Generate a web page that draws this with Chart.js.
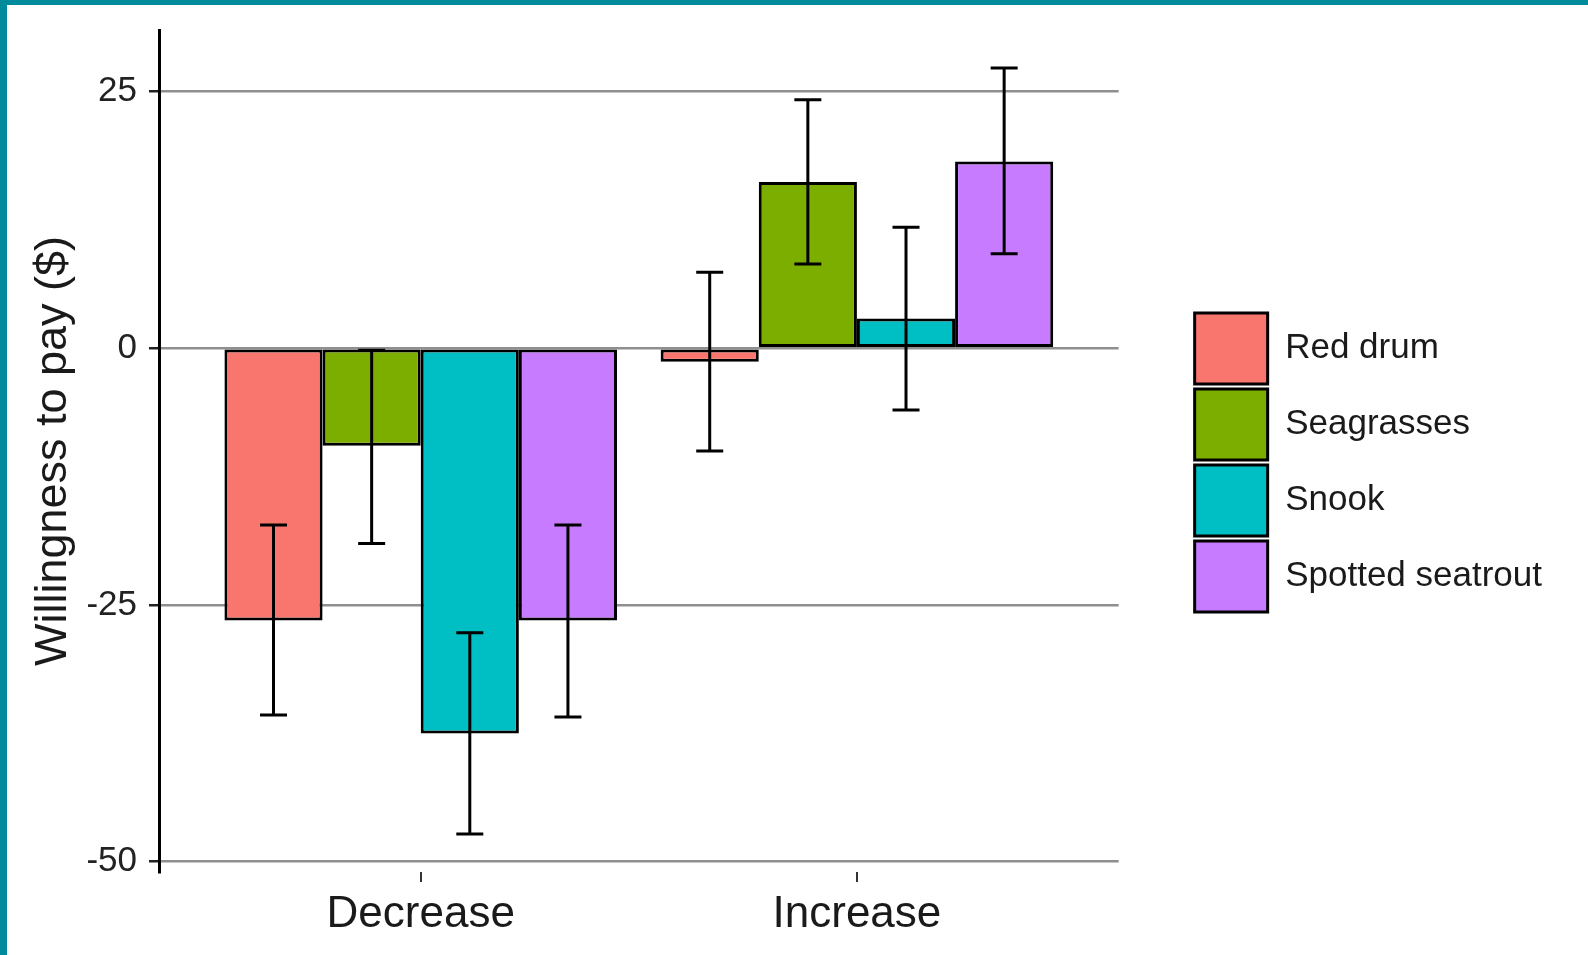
<!DOCTYPE html>
<html>
<head>
<meta charset="utf-8">
<title>Willingness to pay</title>
<script src="https://cdn.jsdelivr.net/npm/chart.js@4.4.1/dist/chart.umd.min.js"></script>
<style>
  html, body { margin: 0; padding: 0; background: #fff; }
  #frame {
    position: absolute; left: 0; top: 0;
    width: 1588px; height: 955px;
    box-sizing: border-box;
    border-top: 5px solid #008b9c;
    border-left: 7px solid #008b9c;
    background: #fff;
  }
  canvas { display: block; }
</style>
</head>
<body>
<div id="frame"><canvas id="wtpChart" width="1581" height="950"></canvas></div>
<script>
// categories and series values
const categories = ['Decrease', 'Increase'];
const species = ['Red drum', 'Seagrasses', 'Snook', 'Spotted seatrout'];
const yTicks = [-50, -25, 0, 25];

const redDrum = [-26.5, -1.3];
const redDrumLow = [-35.7, -10.0];
const redDrumHigh = [-17.2, 7.4];

const seagrasses = [-9.5, 16.2];
const seagrassesLow = [-19.0, 8.2];
const seagrassesHigh = [-0.2, 24.2];

const snook = [-37.5, 2.9];
const snookLow = [-47.3, -6.0];
const snookHigh = [-27.7, 11.8];

const seatrout = [-26.5, 18.2];
const seatroutLow = [-35.9, 9.2];
const seatroutHigh = [-17.2, 27.3];

const colors = ['#F8766D', '#7CAE00', '#00BFC4', '#C77CFF'];
const FONT = "'Liberation Sans', Arial, sans-serif";

const series = [
  { values: redDrum, low: redDrumLow, high: redDrumHigh },
  { values: seagrasses, low: seagrassesLow, high: seagrassesHigh },
  { values: snook, low: snookLow, high: snookHigh },
  { values: seatrout, low: seatroutLow, high: seatroutHigh }
];

// draws the whiskers on top of the bars
const errorBars = {
  id: 'errorBars',
  afterDatasetsDraw(chart) {
    const ctx = chart.ctx;
    const y = chart.scales.y;
    ctx.save();
    ctx.strokeStyle = '#000';
    ctx.lineWidth = 3;
    series.forEach((s, i) => {
      chart.getDatasetMeta(i).data.forEach((bar, j) => {
        const top = y.getPixelForValue(s.high[j]);
        const bottom = y.getPixelForValue(s.low[j]);
        const half = 13.5;
        ctx.beginPath();
        ctx.moveTo(bar.x, top);
        ctx.lineTo(bar.x, bottom);
        ctx.moveTo(bar.x - half, top);
        ctx.lineTo(bar.x + half, top);
        ctx.moveTo(bar.x - half, bottom);
        ctx.lineTo(bar.x + half, bottom);
        ctx.stroke();
      });
    });
    ctx.restore();
  }
};

const datasets = series.map((s, i) => ({
  label: species[i],
  data: categories.map((c, j) => ({ x: j + 1, y: s.values[j] })),
  backgroundColor: colors[i],
  borderColor: '#000',
  borderWidth: 3,
  borderSkipped: false,
  categoryPercentage: 0.9,
  barPercentage: 1.0
}));

new Chart(document.getElementById('wtpChart'), {
  type: 'bar',
  data: { datasets: datasets },
  plugins: [errorBars],
  options: {
    responsive: false,
    animation: false,
    events: [],
    layout: { padding: { top: 25, right: 36, bottom: 7, left: 0 } },
    plugins: {
      tooltip: { enabled: false },
      legend: {
        position: 'right',
        fullSize: false,
        maxWidth: 420,
        // empty title only pushes the keys down a little
        title: { display: true, text: '', padding: 0, font: { size: 23, lineHeight: 1 } },
        labels: {
          boxWidth: 73,
          boxHeight: 71,
          padding: 5,
          color: '#1a1a1a',
          font: { family: FONT, size: 35, lineHeight: 1 }
        }
      }
    },
    scales: {
      x: {
        type: 'linear',
        offset: false,
        min: 0.4,
        max: 2.6,
        afterBuildTicks(scale) {
          scale.ticks = categories.map((c, i) => ({ value: i + 1 }));
        },
        grid: {
          offset: false,
          color: '#fff',
          lineWidth: 4,
          drawTicks: true,
          tickLength: 10,
          tickColor: '#333',
          tickWidth: 2
        },
        border: { display: false },
        ticks: {
          padding: 11,
          maxRotation: 0,
          color: '#1a1a1a',
          font: { family: FONT, size: 44, lineHeight: 1 },
          callback: (v) => categories[Math.round(v) - 1]
        }
      },
      y: {
        min: -51,
        max: 31,
        afterBuildTicks(scale) {
          scale.ticks = yTicks.map(v => ({ value: v }));
        },
        afterFit(scale) {
          scale.width = 152;
          scale.paddingTop = 0;
          scale.paddingBottom = 0;
        },
        grid: {
          z: -1,
          color: '#8f8f8f',
          lineWidth: 2.5,
          drawTicks: true,
          tickLength: 10,
          tickColor: '#222',
          tickWidth: 2.5
        },
        border: { display: true, color: '#000', width: 3 },
        ticks: {
          padding: 12,
          color: '#222',
          font: { family: FONT, size: 35, lineHeight: 1 }
        },
        title: {
          display: true,
          text: 'Willingness to pay ($)',
          color: '#1a1a1a',
          padding: { top: 24, bottom: 0 },
          font: { family: FONT, size: 45, lineHeight: 1 }
        }
      },
      y2: {
        position: 'right',
        display: true,
        afterFit(scale) { scale.width = 71; },
        grid: { display: false },
        border: { display: false },
        ticks: { display: false }
      }
    }
  }
});
</script>
</body>
</html>
